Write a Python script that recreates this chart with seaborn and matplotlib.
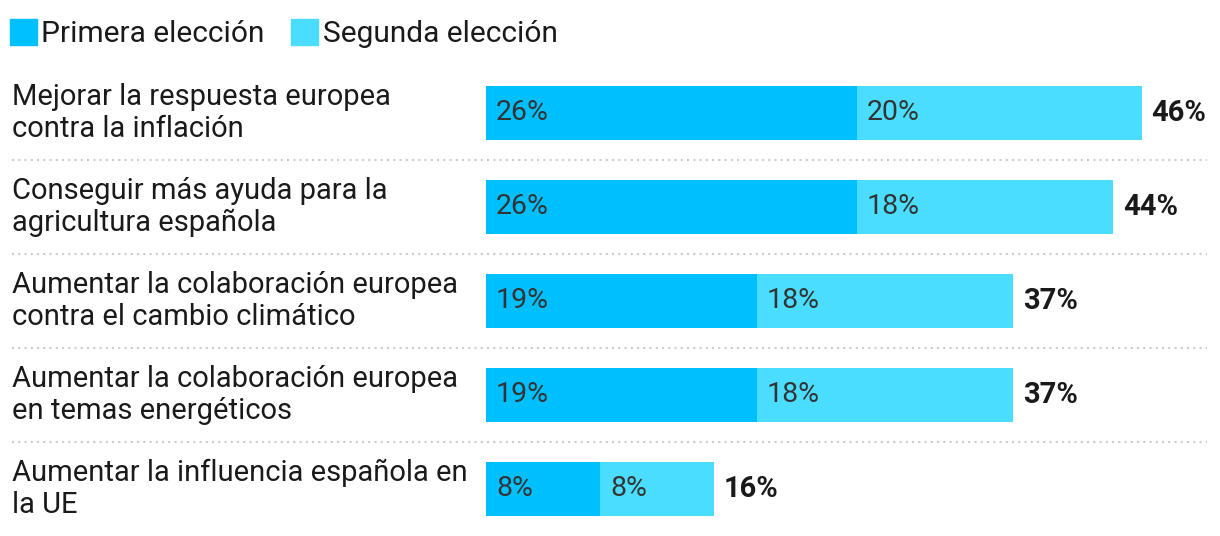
import matplotlib.pyplot as plt
import seaborn as sns
from matplotlib.patches import Patch
from matplotlib.transforms import blended_transform_factory

sns.set_theme(style="white")
plt.rcParams["font.family"] = ["Roboto", "DejaVu Sans"]

categories = [
    "Mejorar la respuesta europea\ncontra la inflación",
    "Conseguir más ayuda para la\nagricultura española",
    "Aumentar la colaboración europea\ncontra el cambio climático",
    "Aumentar la colaboración europea\nen temas energéticos",
    "Aumentar la influencia española en\nla UE",
]
primera = [26, 26, 19, 19, 8]
segunda = [20, 18, 18, 18, 8]
totales = [46, 44, 37, 37, 16]
series = ["Primera elección", "Segunda elección"]

c_primera = "#00bfff"
c_segunda = "#4bddff"
txt_dark = "#333333"

W, H = 1220, 536
px_per_pct = 14.25

fig = plt.figure(figsize=(W / 100, H / 100), dpi=100)
ax = fig.add_axes([486 / W, 0, (W - 486) / W, 470 / H])

# stacked look: totals underneath, first choice on top
sns.barplot(x=totales, y=categories, orient="h", color=c_segunda,
            saturation=1, width=0.575, linewidth=0, ax=ax)
sns.barplot(x=primera, y=categories, orient="h", color=c_primera,
            saturation=1, width=0.575, linewidth=0, ax=ax)

ax.set_xlim(0, (W - 486) / px_per_pct)
ax.set_ylim(4.5, -0.5)
ax.axis("off")

lab_tr = blended_transform_factory(fig.transFigure, ax.transData)
pad = 10 / px_per_pct
for i, (a, b, t) in enumerate(zip(primera, segunda, totales)):
    ax.text(pad, i, f"{a}%", va="center", ha="left", fontsize=20.5, color=txt_dark)
    ax.text(a + pad, i, f"{b}%", va="center", ha="left", fontsize=20.5, color=txt_dark)
    ax.text(t + pad, i, f"{t}%", va="center", ha="left", fontsize=21,
            fontweight="bold", color="#1a1a1a")
    ax.text(12 / W, i, categories[i], transform=lab_tr, va="center", ha="left",
            fontsize=21, color="#1a1a1a", linespacing=1.15)
    if i < len(categories) - 1:
        ax.axhline(i + 0.5, xmin=(12 - 486) / (W - 486), xmax=(1207 - 486) / (W - 486),
                   color="#cccccc", lw=1.5, ls=(0, (1, 2)), clip_on=False)

handles = [Patch(color=c_primera), Patch(color=c_segunda)]
fig.legend(handles, series, loc="upper left", bbox_to_anchor=(-0.0055, 0.995),
           ncol=2, frameon=False, fontsize=21.5, handlelength=0.9, handleheight=0.95,
           handletextpad=0.15, columnspacing=0.9, borderaxespad=0.15,
           labelcolor="#1a1a1a")

plt.savefig("out.png", dpi=100)
